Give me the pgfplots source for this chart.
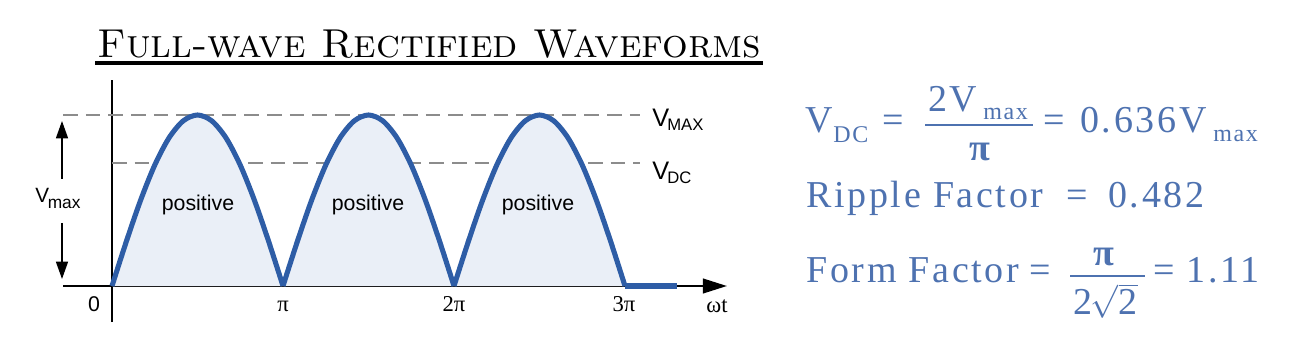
\documentclass[border=0pt]{standalone}
\usepackage{fontspec}
\usepackage{pgfplots}
\pgfplotsset{compat=1.18}
\usetikzlibrary{arrows.meta}
\newfontfamily\sansf{Liberation Sans}
\newfontfamily\serf{Liberation Serif}
\newfontfamily\eqf[LetterSpace=7]{Liberation Serif}
\definecolor{curve}{HTML}{2E5DA6}
\definecolor{fillc}{HTML}{EAEFF7}
\definecolor{dashc}{HTML}{8C8C8C}
\definecolor{eqc}{HTML}{4E72B0}
\newcommand{\eqbig}{\fontsize{28.5pt}{34pt}\selectfont}
\newcommand{\eqsub}{\fontsize{18pt}{21pt}\selectfont}
\begin{document}
\begin{tikzpicture}
\begin{axis}[at={(84pt,-214.5pt)}, anchor=origin,
  x=128.25pt, y=128.25pt,
  xmin=-0.286, xmax=3.596, ymin=-0.211, ymax=1.205,
  axis lines=middle,
  axis line style={line width=1.5pt, black},
  x axis line style={-{Triangle[length=18pt,width=11pt]}},
  y axis line style={-},
  ticks=none, clip=false]
% dashed reference levels
\addplot[dashc, line width=1.1pt, dash pattern=on 11pt off 6pt] coordinates {(-0.286,1) (3.088,1)};
\addplot[dashc, line width=1.1pt, dash pattern=on 11pt off 6pt] coordinates {(0,0.719) (3.088,0.719)};
% fills
\addplot[draw=none, fill=fillc, smooth] coordinates {
(0,0) (0.0833,0.2588) (0.1667,0.5) (0.25,0.7071) (0.3333,0.8660) (0.4167,0.9659) (0.5,1)
(0.5833,0.9659) (0.6667,0.8660) (0.75,0.7071) (0.8333,0.5) (0.9167,0.2588) (1,0)} \closedcycle;
\addplot[draw=none, fill=fillc, smooth] coordinates {
(1,0) (1.0833,0.2588) (1.1667,0.5) (1.25,0.7071) (1.3333,0.8660) (1.4167,0.9659) (1.5,1)
(1.5833,0.9659) (1.6667,0.8660) (1.75,0.7071) (1.8333,0.5) (1.9167,0.2588) (2,0)} \closedcycle;
\addplot[draw=none, fill=fillc, smooth] coordinates {
(2,0) (2.0833,0.2588) (2.1667,0.5) (2.25,0.7071) (2.3333,0.8660) (2.4167,0.9659) (2.5,1)
(2.5833,0.9659) (2.6667,0.8660) (2.75,0.7071) (2.8333,0.5) (2.9167,0.2588) (3,0)} \closedcycle;
% curves
\addplot[curve, line width=3.8pt, smooth, line join=round] coordinates {
(0,0) (0.0833,0.2588) (0.1667,0.5) (0.25,0.7071) (0.3333,0.8660) (0.4167,0.9659) (0.5,1)
(0.5833,0.9659) (0.6667,0.8660) (0.75,0.7071) (0.8333,0.5) (0.9167,0.2588) (1,0)};
\addplot[curve, line width=3.8pt, smooth, line join=round] coordinates {
(1,0) (1.0833,0.2588) (1.1667,0.5) (1.25,0.7071) (1.3333,0.8660) (1.4167,0.9659) (1.5,1)
(1.5833,0.9659) (1.6667,0.8660) (1.75,0.7071) (1.8333,0.5) (1.9167,0.2588) (2,0)};
\addplot[curve, line width=3.8pt, smooth, line join=round] coordinates {
(2,0) (2.0833,0.2588) (2.1667,0.5) (2.25,0.7071) (2.3333,0.8660) (2.4167,0.9659) (2.5,1)
(2.5833,0.9659) (2.6667,0.8660) (2.75,0.7071) (2.8333,0.5) (2.9167,0.2588) (3,0)};
\addplot[curve, line width=3.8pt] coordinates {(3,0) (3.304,0)};
\end{axis}
\begin{scope}[x=0.75pt, y=-0.75pt]
\useasboundingbox (0,0) rectangle (1312,352);
% title
\node[anchor=base west, inner sep=0] at (97,58) {\fontsize{30.3pt}{33pt}\selectfont\textsc{Full-wave Rectified Waveforms}};
\draw[line width=2.3pt] (95,63) -- (763,63);
% V_max arrow
\draw[line width=1.1pt, -{Triangle[length=13pt,width=9pt]}] (62,179) -- (62,121);
\draw[line width=1.1pt, -{Triangle[length=13pt,width=9pt]}] (62,223) -- (62,279);
\node[anchor=base west, inner sep=0] at (35,203) {\sansf\fontsize{15.5pt}{18pt}\selectfont V};
\node[anchor=base west, inner sep=0] at (47.5,209) {\sansf\fontsize{13pt}{15pt}\selectfont max};
% labels
\foreach \cx in {198,368,538}
  \node[anchor=base, inner sep=0] at (\cx,211) {\sansf\fontsize{16pt}{19pt}\selectfont positive};
\node[anchor=base west, inner sep=0] at (652,127) {\sansf\fontsize{19pt}{21pt}\selectfont V};
\node[anchor=base west, inner sep=0] at (667,131) {\sansf\fontsize{12.5pt}{14pt}\selectfont MAX};
\node[anchor=base west, inner sep=0] at (652,180) {\sansf\fontsize{19pt}{21pt}\selectfont V};
\node[anchor=base west, inner sep=0] at (667,184) {\sansf\fontsize{12.5pt}{14pt}\selectfont DC};
\node[anchor=base, inner sep=0] at (94,311) {\sansf\fontsize{16pt}{19pt}\selectfont 0};
\node[anchor=base, inner sep=0] at (283,311) {\serf\fontsize{17pt}{19pt}\selectfont π};
\node[anchor=base, inner sep=0] at (454,311) {\serf\fontsize{17pt}{19pt}\selectfont 2π};
\node[anchor=base, inner sep=0] at (624,311) {\serf\fontsize{17pt}{19pt}\selectfont 3π};
\node[anchor=base, inner sep=0] at (717,313) {\serf\fontsize{17pt}{19pt}\selectfont ωt};
% formulas
\begin{scope}[every node/.style={inner sep=0, text=eqc}]
\node[anchor=base west] at (805,133) {\eqf\eqbig V};
\node[anchor=base west] at (833,143) {\eqf\eqsub DC};
\node[anchor=base west] at (882,133) {\eqf\eqbig =};
\node[anchor=base west] at (928,112) {\eqf\eqbig 2V};
\node[anchor=base west] at (983,120) {\eqf\eqsub max};
\draw[eqc, line width=1.2pt] (925,125) -- (1033,125);
\node[anchor=base] at (980,161) {\eqf\eqbig\bfseries π};
\node[anchor=base west] at (1043,133) {\eqf\eqbig =};
\node[anchor=base west] at (1080,133) {\eqf\eqbig 0.636V};
\node[anchor=base west] at (1213,142) {\eqf\eqsub max};
\node[anchor=base west] at (806,208) {\eqf\eqbig Ripple Factor};
\node[anchor=base west] at (1066,208) {\eqf\eqbig =};
\node[anchor=base west] at (1108,208) {\eqf\eqbig 0.482};
\node[anchor=base west] at (806,283) {\eqf\eqbig Form Factor};
\node[anchor=base west] at (1029,283) {\eqf\eqbig =};
\draw[eqc, line width=1.2pt] (1070,276) -- (1145,276);
\node[anchor=base] at (1104,266) {\eqf\eqbig\bfseries π};
\node[anchor=base west] at (1073,315) {\eqf\eqbig 2\kern-1pt$\sqrt{\mbox{\eqf\eqbig 2}}$};
\node[anchor=base west] at (1153,283) {\eqf\eqbig = 1.11};
\end{scope}
\end{scope}
\end{tikzpicture}
\end{document}
